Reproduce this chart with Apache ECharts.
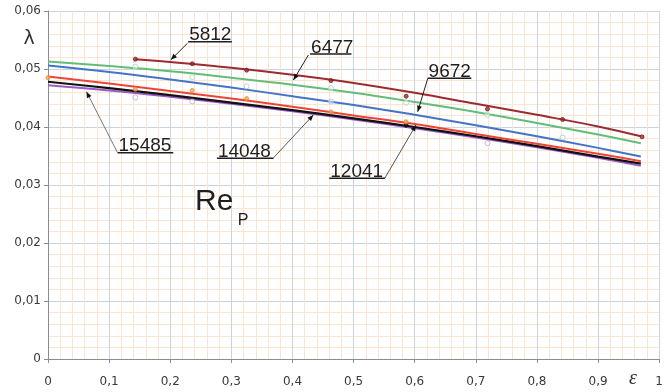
<!DOCTYPE html>
<html>
<head>
<meta charset="utf-8">
<script src="https://cdn.jsdelivr.net/npm/echarts@6/dist/echarts.min.js"></script>
<style>
  html, body { margin: 0; padding: 0; background: #ffffff; }
  #chart { width: 666px; height: 392px; }
</style>
</head>
<body>
<div id="chart"></div>
<script>
// ε positions of the fitted curves
const epsFit = [0, 0.1, 0.2, 0.3, 0.4, 0.5, 0.6, 0.7, 0.8, 0.9, 0.97];
const eps5812 = [0.143, 0.2, 0.3, 0.4, 0.5, 0.6, 0.7, 0.8, 0.9, 0.97];

// fitted λ(ε) curves for each Re_P
const fit5812  = [0.0517, 0.0512, 0.0502, 0.0490, 0.0476, 0.0459, 0.0440, 0.0421, 0.0401, 0.0384];
const fit6477  = [0.0513, 0.0505, 0.0496, 0.0485, 0.0473, 0.0459, 0.0443, 0.0426, 0.0407, 0.0387, 0.0372];
const fit9672  = [0.0506, 0.0495, 0.0482, 0.0468, 0.0453, 0.0438, 0.0421, 0.0403, 0.0384, 0.0364, 0.0349];
const fit12041 = [0.0487, 0.0475, 0.0462, 0.0449, 0.0435, 0.0420, 0.0405, 0.0388, 0.0371, 0.0354, 0.0341];
const fit14048 = [0.0478, 0.0467, 0.0455, 0.0442, 0.0429, 0.0415, 0.0400, 0.0384, 0.0367, 0.0349, 0.0337];
const fit15485 = [0.0472, 0.0463, 0.0452, 0.0440, 0.0427, 0.0413, 0.0398, 0.0382, 0.0365, 0.0347, 0.0333];

// measured points
const pts5812  = [[0.143, 0.0517], [0.236, 0.0509], [0.325, 0.0498], [0.463, 0.0480], [0.586, 0.0453], [0.719, 0.0431], [0.842, 0.0413], [0.972, 0.0383]];
const pts6477  = [[0.143, 0.0504], [0.236, 0.0486], [0.463, 0.0467], [0.586, 0.0442], [0.719, 0.0421]];
const pts9672  = [[0.325, 0.0470], [0.463, 0.0444], [0.842, 0.0382]];
const pts12041 = [[0, 0.0485], [0.143, 0.0465], [0.236, 0.0463], [0.325, 0.0449], [0.463, 0.0426], [0.586, 0.0409]];
const pts14048 = [[0.586, 0.0403]];
const pts15485 = [[0.143, 0.0451], [0.236, 0.0444], [0.719, 0.0372]];

// axis ticks
const xMin = 0, xMax = 1, xStep = 0.1;
const yMin = 0, yMax = 0.06, yStep = 0.01;

// curve labels: text, underline (ε from, ε to, λ), leader start [ε, λ], leader target [ε, λ]
const curveLabels = [
  { text: '5812',  ul: [0.2293, 0.3008, 0.05471], from: [0.2281, 0.05443], to: [0.2011, 0.05160], stroke: '#222' },
  { text: '6477',  ul: [0.4288, 0.4964, 0.05259], from: [0.4260, 0.05241], to: [0.4016, 0.04810], stroke: '#222' },
  { text: '9672',  ul: [0.6211, 0.6927, 0.04840], from: [0.6211, 0.04830], to: [0.6049, 0.04264], stroke: '#222' },
  { text: '15485', ul: [0.1138, 0.2049, 0.03557], from: [0.1138, 0.03557], to: [0.0629, 0.04609], stroke: '#777' },
  { text: '14048', ul: [0.2764, 0.3691, 0.03460], from: [0.3691, 0.03470], to: [0.4341, 0.04207], stroke: '#555' },
  { text: '12041', ul: [0.4602, 0.5512, 0.03116], from: [0.5512, 0.03120], to: [0.6021, 0.04034], stroke: '#555' }
];

const zip = (xs, ys) => ys.map((v, i) => [xs[i], v]);
const fmtX = v => (v === 0 || v === 1) ? String(v) : v.toFixed(1).replace('.', ',');
const fmtY = v => (v === 0) ? '0' : v.toFixed(2).replace('.', ',');

const FONT = '"Liberation Sans", Arial, sans-serif';
const AXIS_FONT = '"DejaVu Sans", sans-serif';

const lineSeries = (name, xs, ys, color, width) => ({
  name, type: 'line', data: zip(xs, ys), smooth: 0.4, symbol: 'none',
  lineStyle: { color, width }, z: 3
});
const pointSeries = (name, data, color, border, size) => ({
  name: name + ' pts', type: 'scatter', data, symbol: 'circle', symbolSize: size,
  itemStyle: { color, borderColor: border, borderWidth: 1 }, z: 4
});

const chart = echarts.init(document.getElementById('chart'), null, { renderer: 'canvas' });

chart.setOption({
  animation: false,
  backgroundColor: '#ffffff',
  grid: { left: 48, right: 3, top: 11, bottom: 33 },
  xAxis: {
    type: 'value', min: xMin, max: xMax, interval: xStep,
    axisLine: { show: true, lineStyle: { color: '#8c8c8c', width: 1 } },
    axisTick: { show: true, length: 4, lineStyle: { color: '#8c8c8c' } },
    axisLabel: { formatter: fmtX, color: '#3a3a3a', fontSize: 12, fontFamily: AXIS_FONT, margin: 17 },
    splitLine: { show: true, lineStyle: { color: '#cdd3dc', width: 1 } },
    minorTick: { show: false, splitNumber: 5 },
    minorSplitLine: { show: true, lineStyle: { color: '#fbe4d2', width: 1 } }
  },
  yAxis: {
    type: 'value', min: yMin, max: yMax, interval: yStep,
    axisLine: { show: true, lineStyle: { color: '#8c8c8c', width: 1 } },
    axisTick: { show: true, length: 4, lineStyle: { color: '#8c8c8c' } },
    axisLabel: { formatter: fmtY, color: '#3a3a3a', fontSize: 12, fontFamily: AXIS_FONT, margin: 7 },
    splitLine: { show: true, lineStyle: { color: '#cdd3dc', width: 1 } },
    minorTick: { show: false, splitNumber: 5 },
    minorSplitLine: { show: true, lineStyle: { color: '#fbe4d2', width: 1 } }
  },
  series: [
    lineSeries('15485', epsFit, fit15485, '#9a5cc6', 2),
    lineSeries('14048', epsFit, fit14048, '#111111', 2.2),
    lineSeries('12041', epsFit, fit12041, '#ee4436', 2),
    lineSeries('9672',  epsFit, fit9672,  '#4474c6', 2),
    lineSeries('6477',  epsFit, fit6477,  '#62bd76', 2),
    lineSeries('5812',  eps5812, fit5812, '#9c2a2e', 2),
    pointSeries('15485', pts15485, 'rgba(255,255,255,0.6)', '#b9a9d6', 5),
    pointSeries('14048', pts14048, '#111111', '#111111', 4),
    pointSeries('12041', pts12041, '#f5a24a', '#f08a3a', 4),
    pointSeries('9672',  pts9672,  'rgba(255,255,255,0.6)', '#a9bfe0', 5),
    pointSeries('6477',  pts6477,  'rgba(255,255,255,0.6)', '#a9d4b0', 5),
    pointSeries('5812',  pts5812,  '#9c2a2e', '#7a1e22', 4)
  ]
});

// annotations placed in data coordinates
const px = p => chart.convertToPixel({ xAxisIndex: 0, yAxisIndex: 0 }, p);
const graphics = [];

curveLabels.forEach(l => {
  const a = px([l.ul[0], l.ul[2]]);
  const b = px([l.ul[1], l.ul[2]]);
  const s = px(l.from);
  const t = px(l.to);
  graphics.push({
    type: 'text', z: 10,
    style: { x: a[0] + 1, y: a[1] + 3, text: l.text, font: '19px ' + FONT, fill: '#1e1e1e',
             textAlign: 'left', textVerticalAlign: 'bottom' }
  });
  graphics.push({
    type: 'line', z: 10,
    shape: { x1: a[0], y1: a[1], x2: b[0], y2: b[1] },
    style: { stroke: '#1e1e1e', lineWidth: 1.6 }
  });
  graphics.push({
    type: 'line', z: 10,
    shape: { x1: s[0], y1: s[1], x2: t[0], y2: t[1] },
    style: { stroke: l.stroke, lineWidth: 1 }
  });
  // arrow head at the curve end of the leader
  const dx = t[0] - s[0], dy = t[1] - s[1];
  const len = Math.hypot(dx, dy);
  const ux = dx / len, uy = dy / len;
  const bx = t[0] - ux * 6, by = t[1] - uy * 6;
  graphics.push({
    type: 'polygon', z: 10,
    shape: { points: [[t[0], t[1]], [bx - uy * 2.5, by + ux * 2.5], [bx + uy * 2.5, by - ux * 2.5]] },
    style: { fill: '#111' }
  });
});

// Re_P caption
const rePos = px([0.2407, 0.02448]);
const subPos = px([0.3106, 0.02252]);
graphics.push({
  type: 'text', z: 10,
  style: { x: rePos[0], y: rePos[1], text: 'Re', font: '30px ' + FONT, fill: '#1e1e1e',
           textAlign: 'left', textVerticalAlign: 'bottom' }
});
graphics.push({
  type: 'text', z: 10,
  style: { x: subPos[0], y: subPos[1], text: 'P', font: '16px ' + FONT, fill: '#1e1e1e',
           textAlign: 'left', textVerticalAlign: 'bottom' }
});

// axis titles
graphics.push({
  type: 'text', z: 10,
  style: { x: 29, y: 39, text: 'λ', font: '19px ' + AXIS_FONT, fill: '#333',
           textAlign: 'center', textVerticalAlign: 'middle' }
});
graphics.push({
  type: 'text', z: 10,
  style: { x: 633, y: 379, text: 'ε', font: 'italic 20px "Liberation Serif", serif', fill: '#333',
           textAlign: 'center', textVerticalAlign: 'middle' }
});

chart.setOption({ graphic: graphics });
</script>
</body>
</html>
